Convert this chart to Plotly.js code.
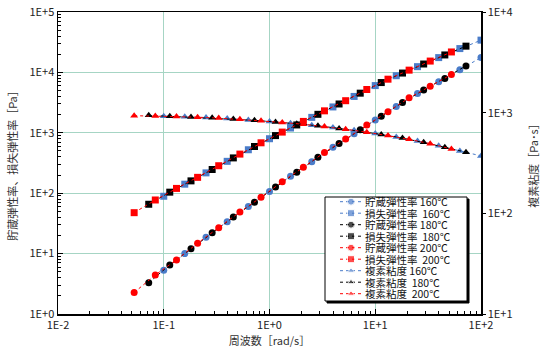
<!DOCTYPE html>
<html><head><meta charset="utf-8">
<script src="https://cdn.plot.ly/plotly-3.0.1.min.js"></script>
<style>html,body{margin:0;padding:0;background:#fff}</style>
</head><body><div id="chart" style="width:541px;height:351px"></div>
<script>
// ---- data ----
const freq160 = [0.1, 0.158, 0.251, 0.398, 0.631, 1.0, 1.58, 2.51, 3.98, 6.31, 10, 15.8, 25.1, 39.8, 63.1, 100];
const freq180 = [0.0721, 0.114, 0.181, 0.287, 0.455, 0.721, 1.14, 1.81, 2.87, 4.55, 7.21, 11.4, 18.1, 28.7, 45.5, 72.1];
const freq200 = [0.0525, 0.0832, 0.132, 0.209, 0.331, 0.525, 0.832, 1.32, 2.09, 3.31, 5.25, 8.32, 13.2, 20.9, 33.1, 52.5];
const storage160 = [5.3, 10.0, 18.6, 33.7, 60.4, 107, 191, 333, 575, 964, 1625, 2720, 4490, 7000, 11040, 17600];
const storage180 = [3.3, 6.5, 12.0, 22.1, 40.2, 71.1, 127, 223, 393, 665, 1125, 1880, 3180, 5100, 7960, 12800];
const storage200 = [2.27, 4.44, 7.87, 14.9, 26.9, 48.9, 85.5, 155, 268, 474, 787, 1340, 2224, 3790, 5910, 9230];
const loss160 = [89, 141, 217, 337, 524, 798, 1200, 1800, 2680, 4000, 6050, 8810, 12450, 17580, 24800, 34200];
const loss180 = [65.6, 104, 160, 247, 384, 593, 899, 1349, 2023, 3000, 4530, 6790, 9750, 13770, 19450, 27200];
const loss200 = [47.6, 77.2, 120, 183, 285, 444, 683, 1027, 1543, 2310, 3400, 5210, 7720, 10900, 15400, 21800];
const visc160 = [923, 910, 895, 873, 847, 818, 787, 752, 711, 667, 621, 574, 524, 469, 417, 372];
const visc180 = [940, 920, 906, 889, 867, 839, 809, 778, 741, 698, 655, 608, 560, 508, 453, 405];
const visc200 = [933, 927, 916, 902, 883, 859, 830, 800, 767, 728, 684, 640, 593, 543, 492, 435];
const seriesLabels = ['貯蔵弾性率 160℃', '損失弾性率\u00a0 160℃', '貯蔵弾性率 180℃', '損失弾性率\u00a0 180℃',
  '貯蔵弾性率 200℃', '損失弾性率\u00a0 200℃', '複素粘度 160℃', '複素粘度\u00a0 180℃', '複素粘度\u00a0 200℃'];
const xTickVals = [0.01, 0.1, 1, 10, 100];
const xTickText = ['1E-2', '1E-1', '1E+0', '1E+1', '1E+2'];
const yTickVals = [1, 10, 100, 1000, 10000, 100000];
const yTickText = ['1E+0', '1E+1', '1E+2', '1E+3', '1E+4', '1E+5'];
const y2TickVals = [10, 100, 1000, 10000];
const y2TickText = ['1E+1', '1E+2', '1E+3', '1E+4'];

// ---- styling ----
const FONT = '"Noto Sans CJK JP", "Noto Sans", sans-serif';
const BLUE = '#4a7cc9', BLACK = '#000000', RED = '#ff0000';
const series = [
  {x: freq160, y: storage160, c: BLUE, s: 'circle', ax: 'y'},
  {x: freq160, y: loss160, c: BLUE, s: 'square', ax: 'y'},
  {x: freq180, y: storage180, c: BLACK, s: 'circle', ax: 'y'},
  {x: freq180, y: loss180, c: BLACK, s: 'square', ax: 'y'},
  {x: freq200, y: storage200, c: RED, s: 'circle', ax: 'y'},
  {x: freq200, y: loss200, c: RED, s: 'square', ax: 'y'},
  {x: freq160, y: visc160, c: BLUE, s: 'triangle-up', ax: 'y2'},
  {x: freq180, y: visc180, c: BLACK, s: 'triangle-up', ax: 'y2'},
  {x: freq200, y: visc200, c: RED, s: 'triangle-up', ax: 'y2'}
];
const msize = {'circle': 7, 'square': 7, 'triangle-up': 7};
const traces = series.map((d, i) => ({
  type: 'scatter', mode: 'lines+markers', x: d.x, y: d.y, yaxis: d.ax, name: seriesLabels[i],
  line: {color: d.c, width: 1, dash: 'dot'},
  marker: {color: d.c, symbol: d.s, size: msize[d.s]},
  showlegend: false
}));

// ---- custom legend (drawn on an overlay helper subplot in plot-fraction units) ----
const W = 423, H = 302; // plot area px
const bx0 = (325 - 58) / W, bx1 = (467 - 58) / W, by1 = (314 - 197) / H, by0 = (314 - 301) / H;
const sx = 2 / W, sy = 2 / H;
traces.push({type: 'scatter', mode: 'lines', xaxis: 'x3', yaxis: 'y3', showlegend: false, hoverinfo: 'skip',
  x: [bx0 + sx, bx1 + sx, bx1 + sx, bx0 + sx, bx0 + sx], y: [by0 - sy, by0 - sy, by1 - sy, by1 - sy, by0 - sy],
  fill: 'toself', fillcolor: '#000', line: {color: '#000', width: 1}});
traces.push({type: 'scatter', mode: 'lines', xaxis: 'x3', yaxis: 'y3', showlegend: false, hoverinfo: 'skip',
  x: [bx0, bx1, bx1, bx0, bx0], y: [by0, by0, by1, by1, by0],
  fill: 'toself', fillcolor: '#fff', line: {color: '#000', width: 1}});
const annotations = [];
series.forEach((d, i) => {
  const yy = (314 - (201.7 + 11.5 * i)) / H;
  traces.push({type: 'scatter', mode: 'lines+markers', xaxis: 'x3', yaxis: 'y3', showlegend: false, hoverinfo: 'skip',
    x: [(340 - 58) / W, (351 - 58) / W, (362 - 58) / W], y: [yy, yy, yy],
    line: {color: d.c, width: 1, dash: 'dot'},
    marker: {color: d.c, symbol: d.s, size: [0, d.s === 'triangle-up' ? 6 : 7, 0]}});
  annotations.push({xref: 'x3', yref: 'y3', x: (363 - 58) / W, y: yy, xanchor: 'left', yanchor: 'middle',
    text: seriesLabels[i], showarrow: false, font: {family: FONT, size: 10.5, color: '#111'}});
});

const minorVals = [];
for (let e = -2; e <= 5; e++) for (let m = 2; m <= 9; m++) minorVals.push(m * Math.pow(10, e));

const axisCommon = {
  type: 'log', showline: true, linecolor: '#000', linewidth: 1.5, mirror: true,
  showgrid: true, gridcolor: '#a6d5c4', gridwidth: 1, zeroline: false,
  tickmode: 'array', ticks: 'inside', ticklen: 5, tickcolor: '#000',
  tickfont: {family: FONT, size: 11, color: '#222'},
  minor: {tickmode: 'array', tickvals: minorVals, ticks: 'inside', ticklen: 3, tickcolor: '#000', showgrid: false}
};

const layout = {
  width: 541, height: 351,
  margin: {l: 58, r: 60, t: 12, b: 37, pad: 0},
  paper_bgcolor: '#fff', plot_bgcolor: 'rgba(0,0,0,0)',
  font: {family: FONT, size: 11, color: '#222'},
  showlegend: false,
  xaxis: Object.assign({}, axisCommon, {range: [-2, 2], tickvals: xTickVals, ticktext: xTickText,
    title: {text: '周波数［rad/s］', font: {family: FONT, size: 11, color: '#333'}, standoff: 4}}),
  yaxis: Object.assign({}, axisCommon, {range: [0, 5], tickvals: yTickVals, ticktext: yTickText,
    title: {text: '貯蔵弾性率、損失弾性率［Pa］', font: {family: FONT, size: 11, color: '#333'}, standoff: 9}}),
  yaxis2: {type: 'log', overlaying: 'y', side: 'right', range: [1, 4], tickmode: 'array',
    tickvals: y2TickVals, ticktext: y2TickText, showgrid: false, zeroline: false,
    showline: true, linecolor: '#000', linewidth: 1.5, ticks: 'outside', ticklen: 3, tickcolor: '#000',
    tickfont: {family: FONT, size: 11, color: '#222'},
    title: {text: '複素粘度［Pa･s］', font: {family: FONT, size: 11, color: '#333'}, standoff: 20}},
  xaxis3: {domain: [0, 1], range: [0, 1], anchor: 'y3', visible: false, fixedrange: true},
  yaxis3: {domain: [0, 1], range: [0, 1], anchor: 'x3', visible: false, fixedrange: true},
  annotations: annotations
};

Plotly.newPlot('chart', traces, layout, {staticPlot: true, displayModeBar: false});
</script></body></html>
